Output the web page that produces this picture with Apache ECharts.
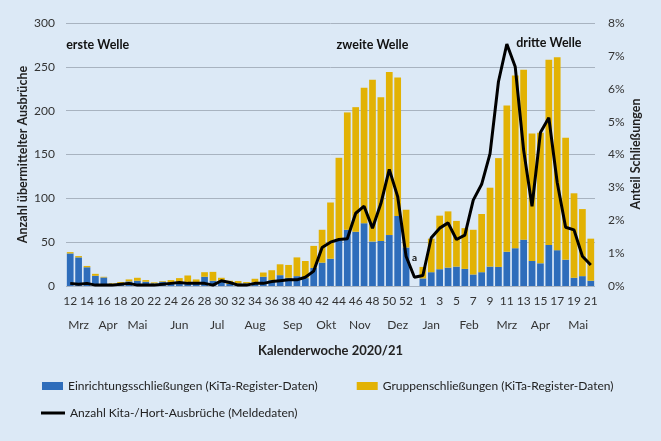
<!DOCTYPE html>
<html>
<head>
<meta charset="utf-8">
<script src="https://cdn.jsdelivr.net/npm/echarts@6/dist/echarts.min.js"></script>
<style>
  html, body { margin: 0; padding: 0; background: #dce9f6; }
  #chart { width: 661px; height: 441px; }
</style>
</head>
<body>
<div id="chart"></div>
<script>
// Kalenderwochen 12..53 (2020) und 1..21 (2021)
const weeks = [
  "12","13","14","15","16","17","18","19","20","21","22","23","24","25","26","27","28","29","30","31",
  "32","33","34","35","36","37","38","39","40","41","42","43","44","45","46","47","48","49","50","51",
  "52","53",
  "1","2","3","4","5","6","7","8","9","10","11","12","13","14","15","16","17","18","19","20","21"
];

// Anteil Einrichtungsschließungen (%)
const einrichtung = [
  0.99,0.87,0.57,0.31,0.26,0.06,0.08,0.14,0.16,0.13,0.08,0.13,0.11,0.11,0.10,0.10,0.28,0.16,0.13,0.06,
  0.08,0.08,0.11,0.28,0.18,0.33,0.25,0.30,0.24,0.55,0.71,0.83,1.39,1.71,1.65,1.91,1.35,1.37,1.55,2.13,
  1.17,0,
  0.23,0.42,0.51,0.56,0.59,0.52,0.35,0.42,0.59,0.58,1.04,1.15,1.41,0.76,0.69,1.25,1.09,0.80,0.25,0.30,0.16
];

// Anteil Gruppenschließungen (%)
const gruppen = [
  0.04,0.04,0.04,0.06,0.02,0.02,0.04,0.06,0.09,0.05,0.03,0.02,0.07,0.13,0.22,0.10,0.14,0.27,0.12,0.10,
  0.07,0.04,0.11,0.13,0.30,0.33,0.39,0.57,0.52,0.67,1.00,1.71,2.51,3.57,3.79,4.12,4.92,4.37,4.96,4.21,
  1.15,0,
  0.35,1.02,1.63,1.71,1.39,1.24,1.36,1.77,2.40,3.31,4.45,5.25,5.17,3.88,3.97,5.63,5.87,3.71,2.57,2.04,1.28
];

// Anzahl Kita-/Hort-Ausbrüche (Meldedaten)
const ausbrueche = [
  3,2,3,1,1,1,2,3,1,1,1,2,3,4,3,3,3,1,6,4,
  1,1,3,3,5,6,7,7,10,17,44,50,53,54,83,91,66,94,133,102,
  34,10,
  12,55,66,72,53,58,98,116,151,233,276,250,155,91,175,192,118,67,64,34,24
];

const monthLabels = ["Mrz","Apr","Mai","Jun","Jul","Aug","Sep","Okt","Nov","Dez","Jan","Feb","Mrz","Apr","Mai"];
const monthAt = [1, 4.5, 8, 13, 17.5, 22, 26.5, 30.5, 34.5, 39, 43, 47.5, 52, 56, 60.5];

const font = "Lato, 'Open Sans', sans-serif";

const chart = echarts.init(document.getElementById("chart"));

const option = {
  backgroundColor: "#dce9f6",
  textStyle: { fontFamily: font },
  animation: false,
  grid: { left: 66, right: 66, top: 23, bottom: 155 },
  legend: [
    {
      left: 37,
      top: 375,
      icon: "rect",
      itemWidth: 21,
      itemHeight: 8,
      itemGap: 39,
      textStyle: { fontSize: 12, color: "#222", fontFamily: font },
      data: ["Einrichtungsschließungen (KiTa-Register-Daten)", "Gruppenschließungen (KiTa-Register-Daten)"]
    },
    {
      left: 36,
      top: 402,
      icon: "rect",
      itemWidth: 24,
      itemHeight: 3,
      textStyle: { fontSize: 12, color: "#222", fontFamily: font },
      data: ["Anzahl Kita-/Hort-Ausbrüche (Meldedaten)"]
    }
  ],
  // rechte Achsenbeschriftung, von unten nach oben lesend
  graphic: [
    {
      type: "text",
      x: 636,
      y: 154,
      rotation: Math.PI / 2,
      style: {
        text: "Anteil Schließungen",
        align: "center",
        verticalAlign: "middle",
        fill: "#222",
        font: "bold 12.5px " + font
      }
    }
  ],
  xAxis: [
    {
      type: "category",
      data: weeks,
      axisLine: { show: false },
      axisTick: { show: false },
      axisLabel: { interval: 1, margin: 9, fontSize: 12, color: "#333" },
      name: "Kalenderwoche 2020/21",
      nameLocation: "middle",
      nameGap: 58,
      nameMoveOverlap: false,
      nameTextStyle: { fontSize: 13, fontWeight: "bold", color: "#222" }
    },
    {
      type: "value",
      position: "bottom",
      offset: 24,
      min: -0.5,
      max: 62.5,
      interval: 0.5,
      axisLine: { show: false },
      axisTick: { show: false },
      splitLine: { show: false },
      axisLabel: {
        margin: 9,
        fontSize: 12,
        color: "#333",
        showMinLabel: false,
        showMaxLabel: false,
        formatter: function (v) {
          const k = monthAt.indexOf(v);
          return k >= 0 ? monthLabels[k] : "";
        }
      }
    }
  ],
  yAxis: [
    {
      type: "value",
      min: 0,
      max: 300,
      interval: 50,
      axisLine: { show: false },
      axisTick: { show: false },
      axisLabel: { margin: 11, fontSize: 12, color: "#333" },
      splitLine: { lineStyle: { color: "#a8b3c0", width: 1 } },
      name: "Anzahl übermittelter Ausbrüche",
      nameLocation: "middle",
      nameGap: 37,
      nameMoveOverlap: false,
      nameTextStyle: { fontSize: 12.5, fontWeight: "bold", color: "#222" }
    },
    {
      type: "value",
      min: 0,
      max: 8,
      interval: 1,
      axisLine: { show: false },
      axisTick: { show: false },
      splitLine: { show: false },
      axisLabel: { margin: 13, fontSize: 12, color: "#333", formatter: "{value}%" }
    }
  ],
  series: [
    {
      name: "Einrichtungsschließungen (KiTa-Register-Daten)",
      type: "bar",
      stack: "schliessung",
      yAxisIndex: 1,
      barCategoryGap: "20%",
      itemStyle: { color: "#2e6dbb" },
      data: einrichtung
    },
    {
      name: "Gruppenschließungen (KiTa-Register-Daten)",
      type: "bar",
      stack: "schliessung",
      yAxisIndex: 1,
      barCategoryGap: "20%",
      itemStyle: { color: "#e2b204" },
      data: gruppen
    },
    {
      name: "Anzahl Kita-/Hort-Ausbrüche (Meldedaten)",
      type: "line",
      yAxisIndex: 0,
      showSymbol: false,
      symbol: "none",
      z: 5,
      lineStyle: { color: "#000", width: 3 },
      itemStyle: { color: "#000" },
      data: ausbrueche,
      markPoint: {
        symbol: "circle",
        symbolSize: 0,
        silent: true,
        label: { show: true, position: "inside", color: "#111", fontWeight: "bold", fontSize: 12.5, fontFamily: font },
        data: [
          { coord: [0, 275], value: "erste Welle", label: { formatter: "erste Welle", align: "left", offset: [-4, 0] } },
          { coord: [36, 275], value: "zweite Welle", label: { formatter: "zweite Welle" } },
          { coord: [57, 277], value: "dritte Welle", label: { formatter: "dritte Welle" } },
          { coord: [41, 32], value: "a", label: { formatter: "a", fontSize: 10 } }
        ]
      }
    }
  ]
};

chart.setOption(option);
</script>
</body>
</html>
